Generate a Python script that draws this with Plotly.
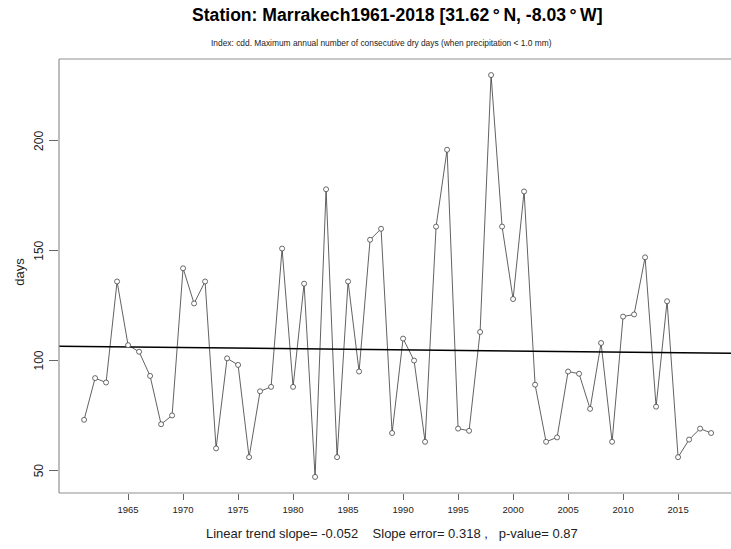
import numpy as np
import plotly.graph_objects as go

years = list(range(1961, 2019))
cdd = [73, 92, 90, 136, 107, 104, 93, 71, 75, 142,
       126, 136, 60, 101, 98, 56, 86, 88, 151, 88,
       135, 47, 178, 56, 136, 95, 155, 160, 67, 110,
       100, 63, 161, 196, 69, 68, 113, 230, 161, 128,
       177, 89, 63, 65, 95, 94, 78, 108, 63, 120,
       121, 147, 79, 127, 56, 64, 69, 67]
x_ticks = [1965, 1970, 1975, 1980, 1985, 1990, 1995, 2000, 2005, 2010, 2015]
y_ticks = [50, 100, 150, 200]

title_text = "Station: Marrakech1961-2018 [31.62\u2009\u00b0\u2009N, -8.03\u2009\u00b0\u2009W]"
subtitle_text = "Index: cdd. Maximum annual number of consecutive dry days (when precipitation < 1.0 mm)"
footer_text = "Linear trend slope= -0.052    Slope error= 0.318 ,   p-value= 0.87"
y_label = "days"

FONT = "Liberation Sans, Arial, Helvetica, sans-serif"

slope, intercept = np.polyfit(years, cdd, 1)
x_range = [1958.72, 2019.81]
y_range = [39.68, 237.32]
trend_y = [slope * v + intercept for v in x_range]

fig = go.Figure()
fig.add_trace(go.Scatter(
    x=years, y=cdd, mode="lines",
    line=dict(color="#3a3a3a", width=0.8),
    hoverinfo="skip", showlegend=False))
fig.add_trace(go.Scatter(
    x=x_range, y=trend_y, mode="lines",
    line=dict(color="black", width=1.5),
    showlegend=False))
fig.add_trace(go.Scatter(
    x=years, y=cdd, mode="markers",
    marker=dict(symbol="circle", size=5, color="white",
                line=dict(color="#444444", width=0.8)),
    showlegend=False))

annotations = [
    dict(text="<b>" + title_text + "</b>", xref="paper", yref="paper",
         x=0.504, y=1, yshift=44, showarrow=False, xanchor="center", yanchor="middle",
         font=dict(size=17.6, color="black")),
    dict(text=subtitle_text, xref="paper", yref="paper",
         x=0.48, y=1, yshift=16.5, showarrow=False, xanchor="center", yanchor="middle",
         font=dict(size=8.4, color="#222222")),
    dict(text=footer_text, xref="paper", yref="paper",
         x=0.495, y=0, yshift=-40, showarrow=False, xanchor="center", yanchor="middle",
         font=dict(size=13, color="#222222")),
    dict(text=y_label, xref="paper", yref="paper", x=0, xshift=-39, y=0.51,
         showarrow=False, xanchor="center", yanchor="middle", textangle=-90,
         font=dict(size=13, color="#222222")),
]
for v in y_ticks:
    annotations.append(dict(text=str(v), xref="paper", yref="y", x=0, xshift=-20, y=v,
                            showarrow=False, xanchor="center", yanchor="middle",
                            textangle=-90, font=dict(size=12, color="#222222")))

fig.update_layout(
    width=731, height=549,
    margin=dict(l=59, r=0, t=59, b=56),
    paper_bgcolor="white", plot_bgcolor="white",
    font=dict(family=FONT, color="black"),
    xaxis=dict(range=x_range, tickvals=x_ticks, showgrid=False, zeroline=False,
               showline=False, ticks="outside", ticklen=6, tickcolor="#666666",
               ticklabelstandoff=2,
               tickfont=dict(size=9.5, color="#222222")),
    yaxis=dict(range=y_range, tickvals=y_ticks, showgrid=False, zeroline=False,
               showline=False, ticks="outside", ticklen=9, tickcolor="#666666",
               showticklabels=False),
    shapes=[
        dict(type="line", xref="paper", yref="paper", x0=0, x1=1, y0=0, y1=0,
             line=dict(color="#909090", width=1.2)),
        dict(type="line", xref="paper", yref="paper", x0=0, x1=1, y0=1, y1=1,
             line=dict(color="#909090", width=1.2)),
        dict(type="line", xref="paper", yref="paper", x0=0, x1=0, y0=0, y1=1,
             line=dict(color="#909090", width=1.2)),
    ],
    annotations=annotations,
)

fig.write_html("out.html", config={"displayModeBar": False},
               post_script="document.body.style.margin='0';")
